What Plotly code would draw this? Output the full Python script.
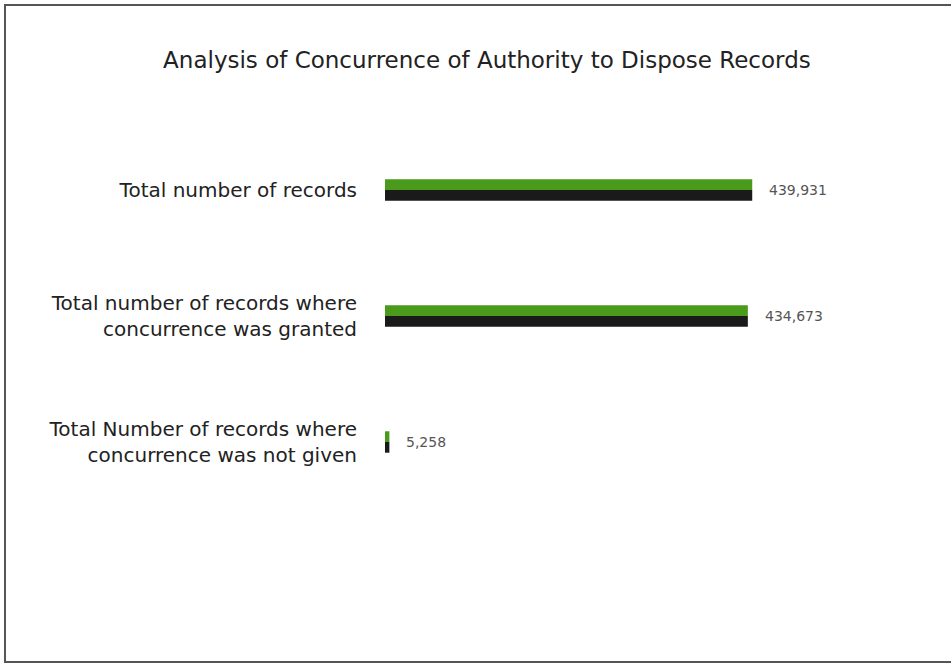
import plotly.graph_objects as go

# Données
categories = [
    "Total number of records",
    "Total number of records where<br>concurrence was granted",
    "Total Number of records where<br>concurrence was not given",
]
valeurs = [439931, 434673, 5258]
etiquettes = ["439,931", "434,673", "5,258"]

police = "DejaVu Sans"

fig = go.Figure()
# face verte (haut) et ombre noire (bas) pour l'effet relief
fig.add_trace(go.Bar(y=categories, x=valeurs, orientation="h",
                     marker=dict(color="#4a9a1c", line_width=0), showlegend=False))
fig.add_trace(go.Bar(y=categories, x=valeurs, orientation="h",
                     marker=dict(color="#1a1a1a", line_width=0), showlegend=False))

for cat, val, lab in zip(categories, valeurs, etiquettes):
    fig.add_annotation(x=val, y=cat, text=lab, showarrow=False,
                       xanchor="left", xshift=15,
                       font=dict(family=police, size=14, color="#555"))

# cadre autour du graphique
fig.add_shape(type="rect", xref="paper", yref="paper",
              x0=-0.7677, x1=1.2, y0=-0.4153, y1=1.3228,
              line=dict(color="#555", width=2))

fig.update_layout(
    width=951, height=666,
    barmode="group", bargap=0.83, bargroupgap=0,
    margin=dict(l=385, r=71, t=127, b=161),
    paper_bgcolor="white", plot_bgcolor="white",
    font=dict(family=police, color="#222"),
    title=dict(text="Analysis of Concurrence of Authority to Dispose Records",
               x=0.512, xanchor="center", xref="container",
               y=0.91, yanchor="middle", yref="container",
               font=dict(family=police, size=23, color="#222")),
    xaxis=dict(range=[0, 593000], visible=False),
    yaxis=dict(autorange="reversed", showgrid=False, zeroline=False,
               showline=False, ticks="", ticklabelstandoff=27,
               tickfont=dict(family=police, size=20, color="#222")),
)

# pas de marge autour de la page
fig.write_html("out.html", config={"displayModeBar": False},
               post_script="document.body.style.margin='0';")
